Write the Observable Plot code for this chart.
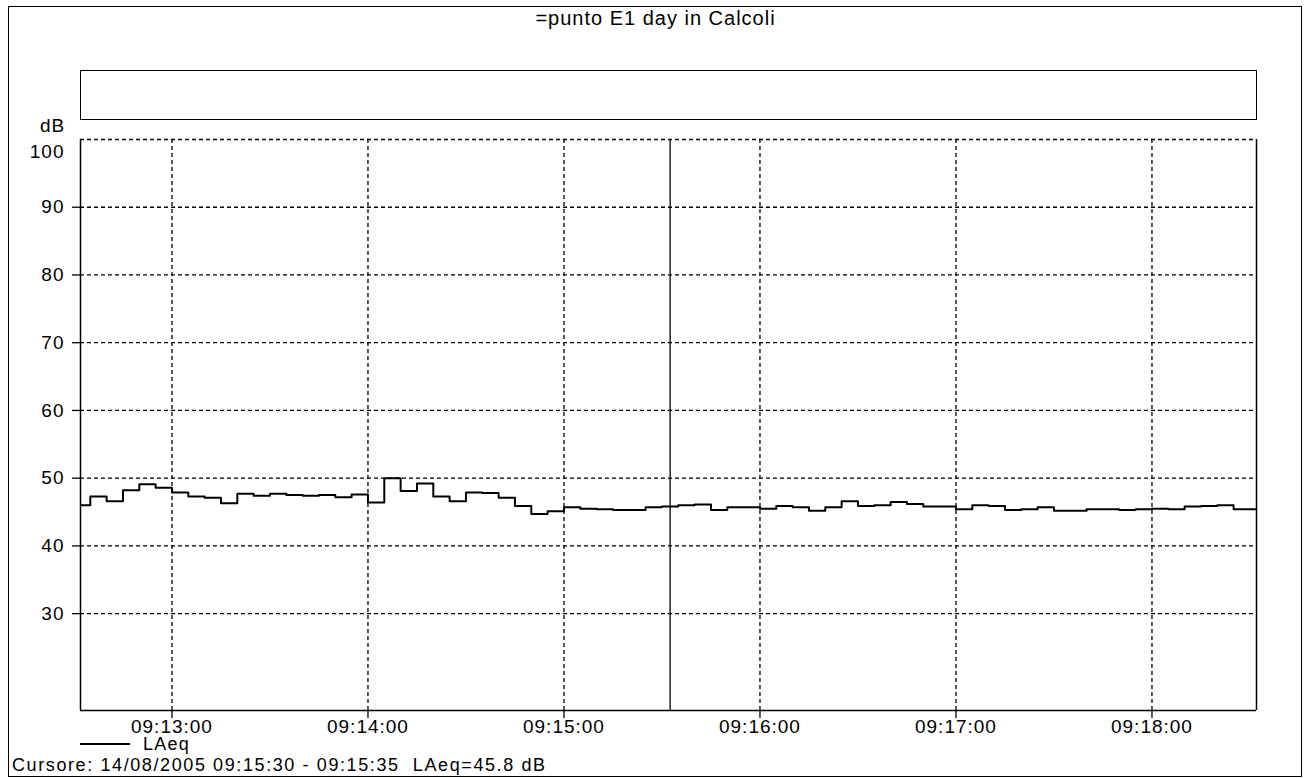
<!DOCTYPE html>
<html><head><meta charset="utf-8">
<script src="https://cdn.jsdelivr.net/npm/d3@7"></script>
<script src="https://cdn.jsdelivr.net/npm/@observablehq/plot@0.6"></script>
<style>
body{margin:0;background:#fff;font-family:"Liberation Sans",Arial,sans-serif;color:#000;}
#wrap{position:relative;width:1311px;height:778px;overflow:hidden;background:#fff;}
#chart{position:absolute;left:0;top:0;}
#chart svg text{letter-spacing:1px;}
.abs{position:absolute;white-space:pre;line-height:1;}
#outer{left:8px;top:6px;width:1294px;height:771px;border:1.5px solid #000;box-sizing:border-box;}
#box{left:80px;top:70px;width:1177px;height:50px;border:1.5px solid #000;box-sizing:border-box;}
#title{left:0;width:1311px;top:8px;text-align:center;font-size:20px;letter-spacing:1px;}
#db{left:40px;top:116px;font-size:19px;letter-spacing:1px;}
#legline{left:80px;top:743px;width:50px;height:0;border-top:2px solid #000;}
#legtext{left:143px;top:735px;font-size:18px;letter-spacing:1.2px;}
#caption{left:12px;top:755.5px;font-size:18px;letter-spacing:1.6px;}
</style></head><body><div id="wrap">
<div id="outer" class="abs"></div>
<div id="title" class="abs"></div>
<div id="box" class="abs"></div>
<div id="chart"></div>
<div id="db" class="abs"></div>
<div id="legline" class="abs"></div>
<div id="legtext" class="abs"></div>
<div id="caption" class="abs"></div>
</div>
<script>
const titleText = "=punto E1 day in Calcoli";
const yUnit = "dB";
const seriesName = "LAeq";
const captionText = "Cursore: 14/08/2005 09:15:30 - 09:15:35  LAeq=45.8 dB";
const xStart = "09:12:32";
const xEnd = "09:18:32";
const cursorStart = "09:15:30";
const cursorEnd = "09:15:35";
const yTicks = [30, 40, 50, 60, 70, 80, 90];
const yTop = 100;
const yBottom = 15.7;
const xTickLabels = ["09:13:00","09:14:00","09:15:00","09:16:00","09:17:00","09:18:00"];
const times = [
"09:12:30","09:12:35","09:12:40","09:12:45","09:12:50","09:12:55",
"09:13:00","09:13:05","09:13:10","09:13:15","09:13:20","09:13:25",
"09:13:30","09:13:35","09:13:40","09:13:45","09:13:50","09:13:55",
"09:14:00","09:14:05","09:14:10","09:14:15","09:14:20","09:14:25",
"09:14:30","09:14:35","09:14:40","09:14:45","09:14:50","09:14:55",
"09:15:00","09:15:05","09:15:10","09:15:15","09:15:20","09:15:25",
"09:15:30","09:15:35","09:15:40","09:15:45","09:15:50","09:15:55",
"09:16:00","09:16:05","09:16:10","09:16:15","09:16:20","09:16:25",
"09:16:30","09:16:35","09:16:40","09:16:45","09:16:50","09:16:55",
"09:17:00","09:17:05","09:17:10","09:17:15","09:17:20","09:17:25",
"09:17:30","09:17:35","09:17:40","09:17:45","09:17:50","09:17:55",
"09:18:00","09:18:05","09:18:10","09:18:15","09:18:20","09:18:25",
"09:18:30"];
const laeq = [
46.0,47.3,46.6,48.2,49.1,48.6,
47.9,47.3,47.1,46.3,47.7,47.4,
47.7,47.5,47.4,47.5,47.2,47.6,
46.4,50.0,48.1,49.2,47.3,46.6,
47.9,47.8,47.1,45.9,44.7,45.1,
45.7,45.5,45.4,45.3,45.3,45.7,
45.8,46.0,46.1,45.3,45.7,45.7,
45.5,45.9,45.7,45.2,45.7,46.6,
45.9,46.0,46.5,46.2,45.8,45.8,
45.4,46.0,45.9,45.3,45.4,45.7,
45.2,45.2,45.4,45.4,45.3,45.4,
45.5,45.4,45.8,45.9,46.0,45.4,
45.4];

const parse = d3.timeParse("%H:%M:%S");
const fmt = d3.timeFormat("%H:%M:%S");
const x0 = parse(xStart), x1 = parse(xEnd);
const data = times.map((t, i) => ({t: parse(t), v: laeq[i]}));
data.push({t: x1, v: laeq[laeq.length - 1]});
const cursorT = new Date((+parse(cursorStart) + +parse(cursorEnd)) / 2);
const xTicks = xTickLabels.map(parse);

const W = 1311, H = 778;
const plot = Plot.plot({
  width: W, height: H,
  marginLeft: 80, marginRight: 55, marginTop: 139, marginBottom: 68,
  style: {fontFamily: '"Liberation Sans", Arial, sans-serif', fontSize: "19px", color: "#000", background: "transparent", overflow: "visible"},
  x: {type: "time", domain: [x0, x1]},
  y: {domain: [yBottom, yTop]},
  marks: [
    Plot.ruleY(yTicks.concat([yTop]), {stroke: "#000", strokeWidth: 1.3, strokeDasharray: "4,3"}),
    Plot.ruleX(xTicks, {stroke: "#000", strokeWidth: 1.3, strokeDasharray: "4,3"}),
    Plot.ruleX([x0, x1], {stroke: "#000", strokeWidth: 1.5}),
    Plot.ruleY([yBottom], {stroke: "#000", strokeWidth: 1.5}),
    Plot.ruleX([cursorT], {stroke: "#000", strokeWidth: 1.3}),
    Plot.line(data, {x: "t", y: "v", curve: "step-after", stroke: "#000", strokeWidth: 2, clip: true}),
    Plot.axisY(yTicks, {tickSize: 8, tickPadding: 8, label: null, stroke: "#000", strokeWidth: 1.3}),
    Plot.text([yTop], {x: x0, y: d => d, text: d => String(d), textAnchor: "end", dx: -16, dy: 12, fontSize: 19}),
    Plot.axisX(xTicks, {tickSize: 8, tickPadding: 0.5, tickFormat: fmt, label: null, stroke: "#000", strokeWidth: 1.3})
  ]
});
document.getElementById("chart").appendChild(plot);
document.getElementById("title").textContent = titleText;
document.getElementById("db").textContent = yUnit;
document.getElementById("legtext").textContent = seriesName;
document.getElementById("caption").textContent = captionText;
</script>
</body></html>
